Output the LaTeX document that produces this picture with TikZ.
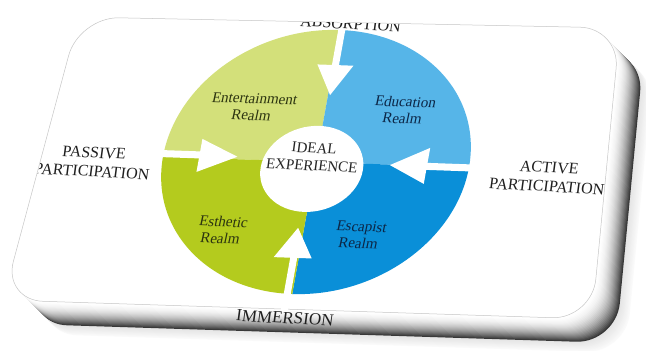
\documentclass[tikz,border=0pt]{standalone}
\usepackage{fontspec}
\setmainfont{Liberation Serif}
\definecolor{entc}{RGB}{211,224,122}
\definecolor{educ}{RGB}{86,181,232}
\definecolor{estc}{RGB}{180,203,30}
\definecolor{escc}{RGB}{10,143,216}
\definecolor{greentext}{RGB}{44,52,16}
\definecolor{bluetext}{RGB}{12,38,70}
\newcommand\cardshape[2]{%
  \begin{scope}[shift={(#2,#2)}]
    \fill[#1, rounded corners=40pt] (79,17) -- (620,28) -- (592,319) -- (3,300) -- cycle;
  \end{scope}}
\tikzset{
  outerlabel/.style={font=\fontsize{16}{19}\selectfont, text=black!88, align=center, rotate=-3, xslant=0.08, inner sep=0pt},
  realmlabel/.style={font=\fontsize{15}{16.8}\selectfont, align=center, rotate=-2, xslant=0.18, inner sep=0pt},
  arrowshape/.style={fill=white}
}
\begin{document}
\begin{tikzpicture}[x=1pt,y=-1pt]
\useasboundingbox (0,0) rectangle (646,351);
\fill[white] (0,0) rectangle (646,351);
% soft outer halo
\foreach \i [evaluate=\i as \c using {2+0.9*(34-\i)}] in {34,33,...,25}{\cardshape{black!\c}{\i}}
% bevel shading on right and bottom
\foreach \i [evaluate=\i as \c using {78*(\i/24)^2}] in {24,23,...,1}{\cardshape{black!\c}{\i}}
% white card
\fill[white, draw=gray!45, line width=0.5pt, rounded corners=40pt] (79,17) -- (620,28) -- (592,319) -- (3,300) -- cycle;

% ring
\begin{scope}[shift={(316,162)}, x=1pt, y=1pt, cm={1,-0.035,0.18,1,(0,0)}]
  \fill[entc] (0,0) -- (-153,0) arc[start angle=180, end angle=90, x radius=153, y radius=132] -- cycle;
  \fill[educ] (0,0) -- (0,132) arc[start angle=90, end angle=0, x radius=153, y radius=132] -- cycle;
  \fill[escc] (0,0) -- (153,0) arc[start angle=0, end angle=-90, x radius=153, y radius=132] -- cycle;
  \fill[estc] (0,0) -- (0,-132) arc[start angle=-90, end angle=-180, x radius=153, y radius=132] -- cycle;
  \fill[white] (-3,-7) ellipse [x radius=51, y radius=43];
  % top arrow
  \fill[arrowshape] (-1.5,145) -- (-1.5,97) -- (-16,97) -- (2,67) -- (20,97) -- (5.5,97) -- (5.5,145) -- cycle;
  % bottom arrow
  \fill[arrowshape] (-8.5,-150) -- (-8.5,-96) -- (-25,-96) -- (-6,-66) -- (13,-96) -- (-1.5,-96) -- (-1.5,-150) -- cycle;
  % left arrow
  \fill[arrowshape] (-170,-0.5) -- (-117,-0.5) -- (-117,-14) -- (-79,2.5) -- (-117,19) -- (-117,6.5) -- (-170,6.5) -- cycle;
  % right arrow
  \fill[arrowshape] (170,-4) -- (111,-4) -- (111,-18) -- (74,-0.5) -- (111,18) -- (111,3) -- (170,3) -- cycle;
\end{scope}

% labels clipped by the card edge
\begin{scope}
  \clip[rounded corners=40pt] (79,17) -- (620,28) -- (592,319) -- (3,300) -- cycle;
  \node[outerlabel, anchor=base] (absorption) at (350,29) {ABSORPTION};
  \node[outerlabel] (passive) at (93,162) {PASSIVE\\PARTICIPATION};
\end{scope}
\node[outerlabel] (active) at (548,177) {ACTIVE\\PARTICIPATION};
\node[outerlabel, font=\fontsize{17}{19}\selectfont] (immersion) at (285,318) {IMMERSION};

\node[realmlabel, text=greentext] (entertainment) at (253,107) {Entertainment\\Realm};
\node[realmlabel, text=bluetext] (education) at (404,110) {Education\\Realm};
\node[realmlabel, text=black!85, rotate=-1, xslant=-0.1, font=\fontsize{15}{17.5}\selectfont] (ideal) at (313,157) {IDEAL\\EXPERIENCE};
\node[realmlabel, text=greentext] (esthetic) at (222,230) {Esthetic\\Realm};
\node[realmlabel, text=bluetext] (escapist) at (360,235) {Escapist\\Realm};
\end{tikzpicture}
\end{document}
